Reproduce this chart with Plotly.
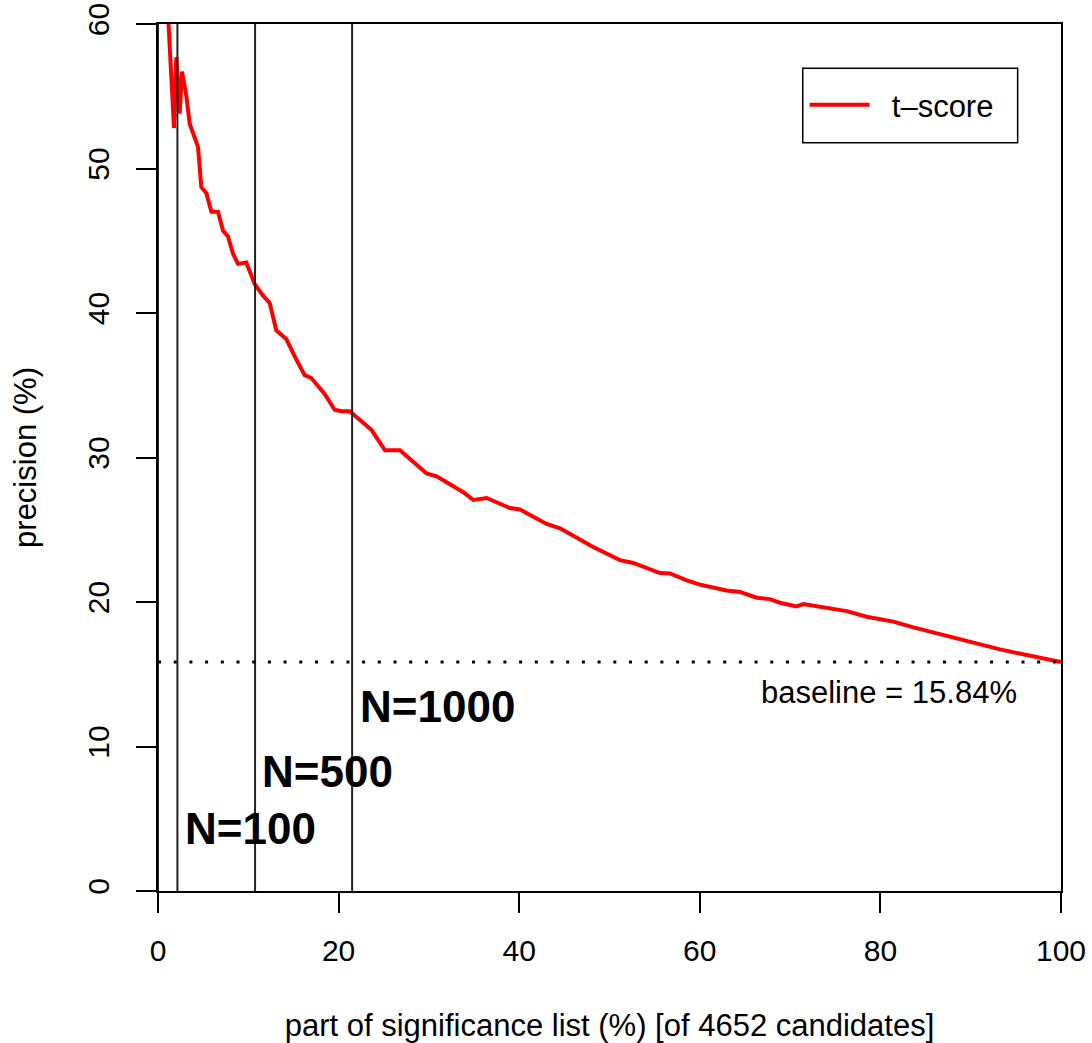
import plotly.graph_objects as go

# ---- data ----
x_pct = [0.5, 1.11, 1.29, 1.77, 2.03, 2.40, 2.66, 3.14, 3.51, 4.06, 4.43, 4.80, 5.35, 5.91,
         6.64, 7.20, 7.75, 8.31, 8.86, 9.78, 10.71, 11.63, 12.37, 13.10, 14.21, 15.14, 16.24,
         16.98, 18.46, 19.56, 20.30, 21.23, 22.37, 23.66, 25.14, 26.80, 27.91, 29.75, 30.86,
         31.97, 33.81, 34.92, 36.40, 37.87, 38.98, 40.09, 43.04, 44.52, 48.20, 51.16, 52.64,
         55.59, 56.70, 58.55, 60.02, 62.97, 64.45, 66.30, 67.77, 68.88, 70.73, 71.46, 73.31,
         75.53, 76.27, 78.48, 81.43, 83.65, 85.86, 88.07, 91.03, 93.24, 96.20, 100.0]
precision = [68.0, 60.3, 57.97, 52.8, 57.7, 53.8, 56.7, 55.0, 53.1, 52.2, 51.5, 48.7, 48.3, 47.0,
             47.0, 45.7, 45.3, 44.1, 43.4, 43.5, 42.0, 41.2, 40.7, 38.8, 38.2, 37.0, 35.7,
             35.5, 34.4, 33.3, 33.2, 33.2, 32.6, 31.9, 30.5, 30.5, 29.9, 28.9, 28.7,
             28.3, 27.6, 27.06, 27.2, 26.8, 26.5, 26.4, 25.4, 25.1, 23.8, 22.9, 22.7,
             22.0, 21.98, 21.5, 21.2, 20.8, 20.7, 20.3, 20.2, 19.95, 19.7, 19.86, 19.67,
             19.4, 19.37, 18.98, 18.64, 18.24, 17.88, 17.55, 17.02, 16.72, 16.33, 15.84]
series_name = "t\u2013score"
baseline = 15.84
total_candidates = 4652
cutoffs = [0, 100, 500, 1000]
cut_labels = ["N=100", "N=500", "N=1000"]
cut_label_y = [4.3, 8.3, 12.8]
x_ticks = [0, 20, 40, 60, 80, 100]
y_ticks = [0, 10, 20, 30, 40, 50, 60]

FONT = "Liberation Sans, Arial, Helvetica, sans-serif"

fig = go.Figure()
fig.add_trace(go.Scatter(x=x_pct, y=precision, mode="lines", name="\u00a0\u00a0" + series_name,
                         line=dict(color="#ff0000", width=4), showlegend=True))

shapes = []
cut_pct = [100.0 * n / total_candidates for n in cutoffs]
for cp in cut_pct:
    shapes.append(dict(type="line", xref="x", yref="paper", x0=cp, x1=cp, y0=0, y1=1,
                       line=dict(color="#222222", width=2)))
shapes.append(dict(type="line", xref="paper", yref="y", x0=0, x1=1, y0=baseline, y1=baseline,
                   line=dict(color="black", width=3, dash="3px,12.7px")))
# legend box
shapes.append(dict(type="rect", xref="paper", yref="paper", x0=0.714, x1=0.952, y0=0.863, y1=0.949,
                   line=dict(color="black", width=1.5), fillcolor="rgba(0,0,0,0)"))

annotations = []
for cp, lab, ly in zip(cut_pct[1:], cut_labels, cut_label_y):
    annotations.append(dict(x=cp + 0.6, y=ly, xref="x", yref="y", text="<b>" + lab + "</b>",
                            showarrow=False, xanchor="left", yanchor="middle",
                            font=dict(family=FONT, size=44, color="black")))
annotations.append(dict(x=95.3, y=13.77, xref="x", yref="y",
                        text="baseline = %.2f%%" % baseline, showarrow=False,
                        xanchor="right", yanchor="middle",
                        font=dict(family=FONT, size=31, color="black")))

fig.update_layout(
    width=1092, height=1043,
    margin=dict(l=158, r=31, t=24, b=152),
    paper_bgcolor="white", plot_bgcolor="white",
    font=dict(family=FONT, size=30, color="black"),
    shapes=shapes, annotations=annotations,
    legend=dict(x=0.716, y=0.9066, xanchor="left", yanchor="middle",
                bgcolor="rgba(0,0,0,0)", borderwidth=0, itemwidth=60,
                font=dict(family=FONT, size=31, color="black")),
    xaxis=dict(range=[0, 100], tickvals=x_ticks, ticks="outside", ticklen=20, tickwidth=1.5,
               tickcolor="black", showline=True, linecolor="black", linewidth=2, mirror=True,
               showgrid=False, zeroline=False, tickfont=dict(size=30),
               ticklabelstandoff=12,
               title=dict(text="part of significance list (%) [of 4652 candidates]",
                          font=dict(size=31), standoff=48),
               automargin=False),
    yaxis=dict(range=[0, 60], tickvals=y_ticks, ticks="outside", ticklen=20, tickwidth=1.5,
               tickcolor="black", showline=True, linecolor="black", linewidth=2, mirror=True,
               showgrid=False, zeroline=False, tickfont=dict(size=30), tickangle=-90,
               ticklabelstandoff=15,
               title=dict(text="precision (%)", font=dict(size=31), standoff=36),
               automargin=False),
)

fig.write_html("out.html")
